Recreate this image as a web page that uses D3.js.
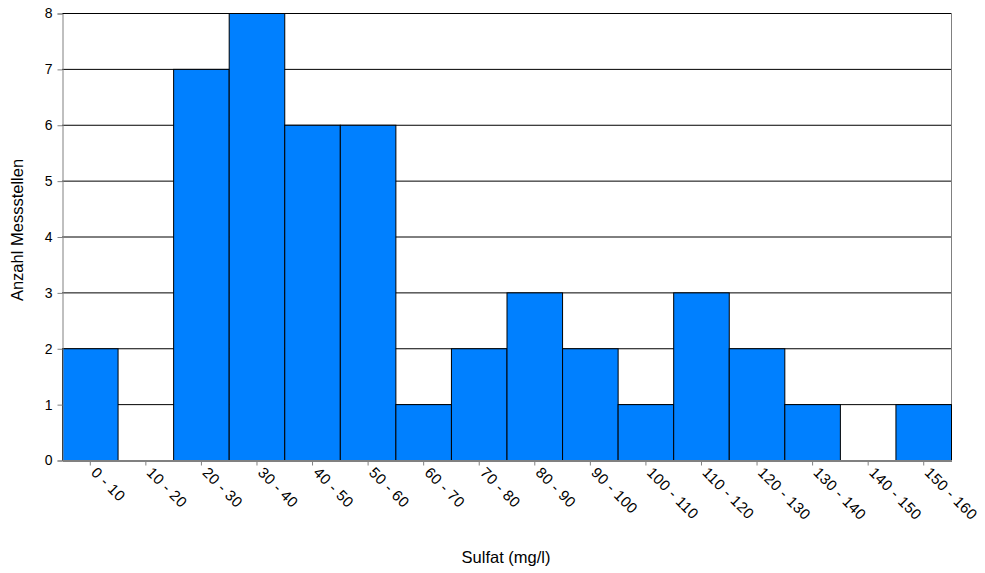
<!DOCTYPE html>
<html><head><meta charset="utf-8">
<script src="https://cdn.jsdelivr.net/npm/d3@7"></script>
<style>body{margin:0;background:#fff}svg{display:block}text{font-family:"Liberation Sans",Arial,sans-serif;fill:#000}</style>
</head><body><svg id="c" width="985" height="573"></svg>
<script>
const categories = ["0 - 10","10 - 20","20 - 30","30 - 40","40 - 50","50 - 60","60 - 70","70 - 80","80 - 90","90 - 100","100 - 110","110 - 120","120 - 130","130 - 140","140 - 150","150 - 160"];
const counts = [2,0,7,8,6,6,1,2,3,2,1,3,2,1,0,1];
const yTicks = [0,1,2,3,4,5,6,7,8];
const xTitle = "Sulfat (mg/l)";
const yTitle = "Anzahl Messstellen";

const svg = d3.select("#c");
const L = 62, R = 951, T = 13, B = 460;
const x = d3.scaleBand().domain(categories).range([L, R]).padding(0);
const y = d3.scaleLinear().domain([0, 8]).range([B, T]);

// gridlines
svg.append("g").selectAll("line").data(yTicks.filter(d => d > 0)).join("line")
  .attr("x1", L).attr("x2", R).attr("y1", d => y(d) + 0.5).attr("y2", d => y(d) + 0.5)
  .attr("stroke", "#000").attr("stroke-width", 1);

// right border
svg.append("line").attr("x1", R + 0.5).attr("x2", R + 0.5).attr("y1", T).attr("y2", B)
  .attr("stroke", "#808080");

// bars
svg.append("g").selectAll("rect").data(counts).join("rect")
  .attr("x", (d, i) => x(categories[i]) + 0.5)
  .attr("y", d => y(d) + 0.5)
  .attr("width", x.bandwidth())
  .attr("height", d => y(0) - y(d))
  .attr("fill", "#0080FF").attr("stroke", "#000").attr("stroke-width", 1)
  .attr("display", d => d > 0 ? null : "none");

// y axis
const ya = svg.append("g").attr("transform", `translate(${L + 0.5},0.5)`)
  .call(d3.axisLeft(y).tickValues(yTicks).tickSize(5).tickPadding(5).tickFormat(d3.format("d")));
ya.select(".domain").attr("stroke", "#808080");
ya.selectAll(".tick line").attr("stroke", "#808080");
ya.selectAll("text").attr("font-size", 14).attr("font-family", "Liberation Sans, Arial, sans-serif").attr("fill", "#000");

// x axis
const xa = svg.append("g").attr("transform", `translate(0.5,${B + 0.5})`)
  .call(d3.axisBottom(x).tickSize(5).tickSizeOuter(0).tickPadding(6));
xa.select(".domain").attr("stroke", "#808080").attr("stroke-width", 2);
xa.selectAll(".tick line").attr("stroke", "#808080");
xa.selectAll("text").attr("font-size", 15).attr("letter-spacing", 0.4)
  .attr("font-family", "Liberation Sans, Arial, sans-serif").attr("fill", "#000")
  .attr("text-anchor", "start").attr("dy", "0.35em")
  .attr("transform", "translate(3,3) rotate(45)")
  .attr("x", 5).attr("y", 4);

// titles
svg.append("text").attr("x", 506).attr("y", 563).attr("text-anchor", "middle")
  .attr("font-size", 16.5).text(xTitle);
svg.append("text").attr("transform", `translate(23,230) rotate(-90)`)
  .attr("text-anchor", "middle").attr("font-size", 16.5).text(yTitle);
</script></body></html>
